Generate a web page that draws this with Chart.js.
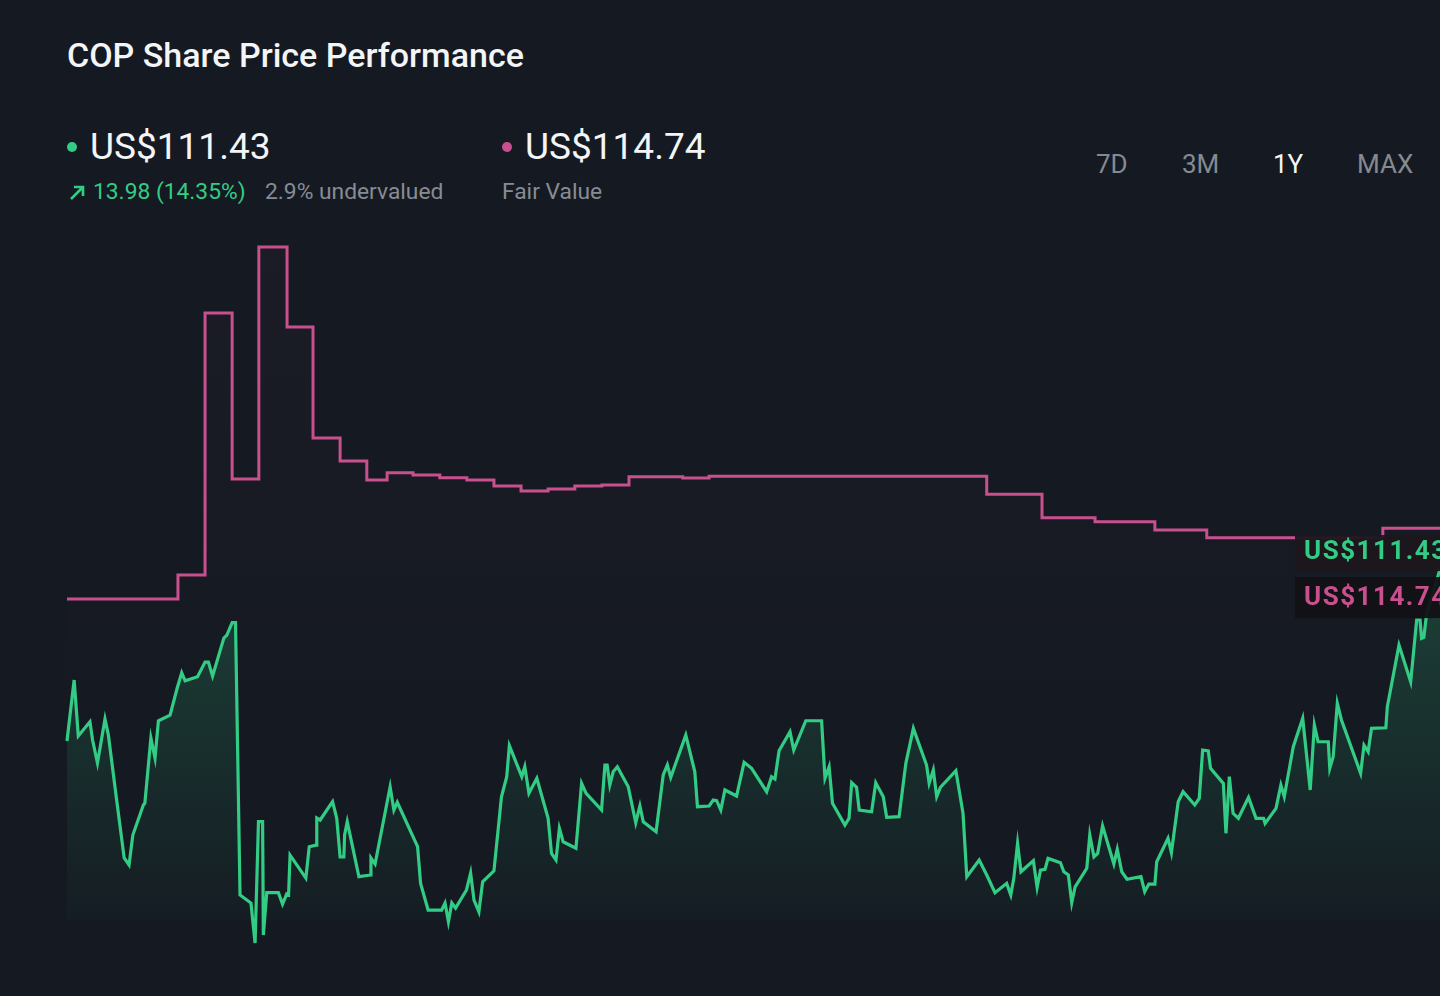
<!DOCTYPE html>
<html>
<head>
<meta charset="utf-8">
<script src="https://cdn.jsdelivr.net/npm/chart.js@4.4.1/dist/chart.umd.min.js"></script>
<style>
  html, body { margin: 0; padding: 0; background: #151a22; }
  body { width: 1440px; height: 996px; position: relative; overflow: hidden; font-family: Roboto, "Noto Sans", sans-serif; }
  .t { position: absolute; white-space: nowrap; }
  .title { left: 67px; top: 34px; line-height: 42px; font-size: 34px; font-weight: 500; color: #f3f5f7; }
  .big { top: 125px; line-height: 44px; font-size: 37px; color: #f3f5f7; }
  .dot { position: absolute; width: 10px; height: 10px; border-radius: 50%; top: 142px; }
  .sub { top: 179px; line-height: 26px; font-size: 22.8px; color: #878c93; }
  .btn { top: 149px; line-height: 30px; font-size: 26px; color: #858a91; }
  #wrap { position: absolute; left: 0; top: 200px; width: 1440px; height: 796px; }
</style>
</head>
<body>
<div class="t title">COP Share Price Performance</div>

<div class="dot" style="left:67px;background:#33cc85"></div>
<div class="t big" style="left:90px">US$111.43</div>
<div class="dot" style="left:502px;background:#c9508f"></div>
<div class="t big" style="left:525px">US$114.74</div>

<svg style="position:absolute;left:69px;top:184px" width="17" height="17" viewBox="0 0 17 17">
  <path d="M2 15 L14 3 M5 3 L14 3 L14 12" stroke="#33cc85" stroke-width="2.6" fill="none"/>
</svg>
<div class="t sub" style="left:93px;color:#33cc85">13.98 (14.35%)</div>
<div class="t sub" style="left:265px">2.9% undervalued</div>
<div class="t sub" style="left:502px">Fair Value</div>

<div class="t btn" style="left:1096px">7D</div>
<div class="t btn" style="left:1182px">3M</div>
<div class="t btn" style="left:1273px;color:#f3f5f7">1Y</div>
<div class="t btn" style="left:1357px">MAX</div>

<div id="wrap"><canvas id="chart" width="1440" height="796"></canvas></div>

<script>
// share price, days since start of the 1Y window
const priceDays = [0,1.9,3.0,6.1,6.8,8.1,10.1,11.0,13.2,15.2,
  16.5,17.5,20.3,20.7,22.3,23.4,24.3,27.4,29.3,30.5,
  31.4,34.7,36.7,37.6,38.7,41.7,42.5,43.9,44.8,46.0,
  48.9,50.0,50.9,52.0,52.2,53.1,56.2,57.3,58.4,58.9,
  59.3,63.5,64.4,66.2,66.4,67.3,70.6,71.7,72.6,73.6,
  73.8,74.5,77.6,80.7,80.8,81.9,85.9,86.9,87.8,93.2,
  94.0,96.0,99.6,100.5,101.4,102.3,103.3,106.2,107.3,108.2,
  109.5,110.5,113.5,115.5,116.9,117.6,120.9,121.7,122.8,124.9,
  127.9,128.8,130.0,130.9,131.9,135.3,136.8,138.0,142.1,143.0,
  143.6,144.3,145.2,146.3,149.2,151.2,152.3,153.2,156.6,158.5,
  159.6,160.5,164.5,166.9,167.6,170.7,171.8,172.7,173.8,174.9,
  178.0,180.0,182.0,186.0,187.3,188.2,189.3,192.2,193.2,196.4,
  200.6,201.5,202.6,203.5,206.8,207.9,208.6,209.9,210.6,213.9,
  215.0,217.0,217.9,221.2,223.0,225.0,228.5,229.2,230.3,231.2,
  232.2,236.3,238.2,239.2,242.5,244.5,246.7,249.8,250.9,251.7,
  252.7,253.6,256.9,257.9,258.8,260.0,260.8,264.1,265.0,266.2,
  267.1,268.0,271.1,271.9,273.0,274.0,275.3,278.3,279.2,280.4,
  281.8,285.5,286.5,287.6,289.2,289.7,292.7,293.6,295.4,296.7,
  299.8,301.0,301.9,303.4,304.0,307.4,308.1,309.0,310.0,311.4,
  314.1,316.1,318.1,318.5,321.4,322.7,323.6,326.0,328.5,330.5,
  331.6,332.6,335.3,335.7,336.6,337.7,338.8,343.9,344.8,345.9,
  346.8,350.6,351.0,354.1,357.2,358.8,359.7,360.1,360.7,361.4,
  365];
const priceValues = [97.45,102.41,97.86,99.02,97.53,95.66,99.24,97.94,92.65,87.94,
  87.37,89.81,92.25,92.41,97.69,96.07,99.10,99.56,101.76,103.00,
  102.35,102.68,103.87,103.87,102.73,105.82,106.07,107.07,107.07,84.93,
  84.28,81.03,90.89,90.89,81.68,85.12,85.12,84.20,85.01,84.93,
  88.18,86.31,88.86,88.99,91.19,91.03,92.52,91.19,88.04,88.04,
  89.81,90.89,86.42,86.56,87.94,87.45,93.73,91.84,92.47,88.86,
  85.88,83.71,83.71,84.28,82.76,84.28,83.87,85.34,86.72,84.52,
  83.57,86.01,86.90,92.92,94.55,97.07,94.55,95.36,93.20,94.42,
  91.17,88.32,87.78,90.35,89.26,88.73,94.01,93.20,91.84,95.50,
  95.50,93.87,94.95,95.36,93.73,90.81,92.17,90.89,90.08,94.69,
  95.50,94.50,97.94,94.95,92.11,92.17,92.65,92.60,91.84,93.47,
  92.98,95.72,95.23,93.33,94.55,94.36,96.66,98.21,96.72,99.10,
  99.10,94.42,95.36,92.39,90.62,91.17,94.06,93.69,91.84,91.70,
  94.06,92.92,91.25,91.30,95.64,98.48,95.50,94.01,95.09,92.92,
  93.69,95.04,91.57,86.42,87.78,86.56,85.12,85.88,84.93,86.29,
  89.13,86.82,87.72,85.56,86.96,87.02,87.91,87.56,86.82,86.56,
  84.30,85.60,87.10,89.81,88.04,88.32,90.54,87.45,88.65,86.82,
  86.21,86.42,85.20,85.82,85.82,87.64,89.54,88.37,92.52,93.33,
  92.25,92.79,96.72,96.64,95.23,94.01,89.95,94.55,91.57,91.17,
  92.87,91.17,91.17,90.76,91.98,93.87,92.92,96.99,99.30,93.47,
  98.75,97.39,97.39,95.23,96.17,100.52,99.16,94.82,97.12,96.58,
  98.48,98.53,100.24,105.25,102.27,107.29,107.29,105.80,105.88,107.69,
  111.43];

// fair value estimate, each value holds until the next day
const fairDays = [0,29.5,36.7,43.9,51.0,58.5,65.4,72.6,79.7,85.1,92.0,99.1,106.3,113.5,120.7,127.9,
  135.0,142.2,149.4,163.7,170.7,244.5,259.2,273.3,289.2,303.0,349.8,365];
const fairValues = [109.00,110.95,132.25,118.75,137.61,131.11,122.08,120.21,118.67,119.26,119.08,118.86,118.67,118.18,117.78,117.94,
  118.18,118.26,118.94,118.83,118.97,117.51,115.60,115.28,114.60,113.98,114.74,114.74];

const lastPrice = "US$111.43";
const lastFair = "US$114.74";

const greenCol = '#33cc85';
const pinkCol = '#c9508f';

const priceData = priceDays.map((d, i) => ({ x: d, y: priceValues[i] }));
const fairData = fairDays.map((d, i) => ({ x: d, y: fairValues[i] }));

function vGradient(context, top, bottom, rgb, a1, a2) {
  const chart = context.chart;
  const area = chart.chartArea;
  if (!area) return null;
  const ys = chart.scales.y;
  const g = chart.ctx.createLinearGradient(0, ys.getPixelForValue(top), 0, ys.getPixelForValue(bottom));
  g.addColorStop(0, 'rgba(' + rgb + ',' + a1 + ')');
  g.addColorStop(1, 'rgba(' + rgb + ',' + a2 + ')');
  return g;
}

const endLabels = {
  id: 'endLabels',
  afterDatasetsDraw(chart) {
    const c = chart.ctx;
    const ys = chart.scales.y;
    const gy = ys.getPixelForValue(priceValues[priceValues.length - 1]);
    const left = 1295;
    const w = chart.width - left;
    c.save();
    c.fillStyle = 'rgba(28,22,30,0.95)';
    c.fillRect(left, gy - 34, w, 36);
    c.fillStyle = 'rgba(18,17,22,0.95)';
    c.fillRect(left, gy + 8, w, 41);
    c.font = 'bold 26px Roboto';
    c.letterSpacing = '1.5px';
    c.textBaseline = 'middle';
    c.fillStyle = greenCol;
    c.fillText(lastPrice, 1304, gy - 17);
    c.fillStyle = pinkCol;
    c.fillText(lastFair, 1304, gy + 29);
    c.restore();
  }
};

new Chart(document.getElementById('chart'), {
  type: 'line',
  data: {
    datasets: [{
      label: 'Fair Value',
      data: fairData,
      stepped: true,
      borderColor: pinkCol,
      borderWidth: 3,
      pointRadius: 0,
      fill: 'start',
      backgroundColor: (ctx) => vGradient(ctx, 138, 95, '201,80,143', 0.035, 0.0),
      clip: false
    }, {
      label: 'Share Price',
      data: priceData,
      borderColor: greenCol,
      borderWidth: 3.2,
      borderJoinStyle: 'miter',
      tension: 0,
      pointRadius: 0,
      fill: 'start',
      backgroundColor: (ctx) => vGradient(ctx, 112, 83, '51,204,133', 0.22, 0.02),
      clip: false
    }]
  },
  options: {
    responsive: false,
    animation: false,
    layout: { padding: { left: 67, right: 0, top: 5, bottom: 76 } },
    plugins: {
      legend: { display: false },
      tooltip: { enabled: false }
    },
    scales: {
      x: { type: 'linear', min: 0, max: 365, display: false },
      y: { min: 82.9, max: 141.03, display: false }
    }
  },
  plugins: [endLabels]
});
</script>
</body>
</html>
